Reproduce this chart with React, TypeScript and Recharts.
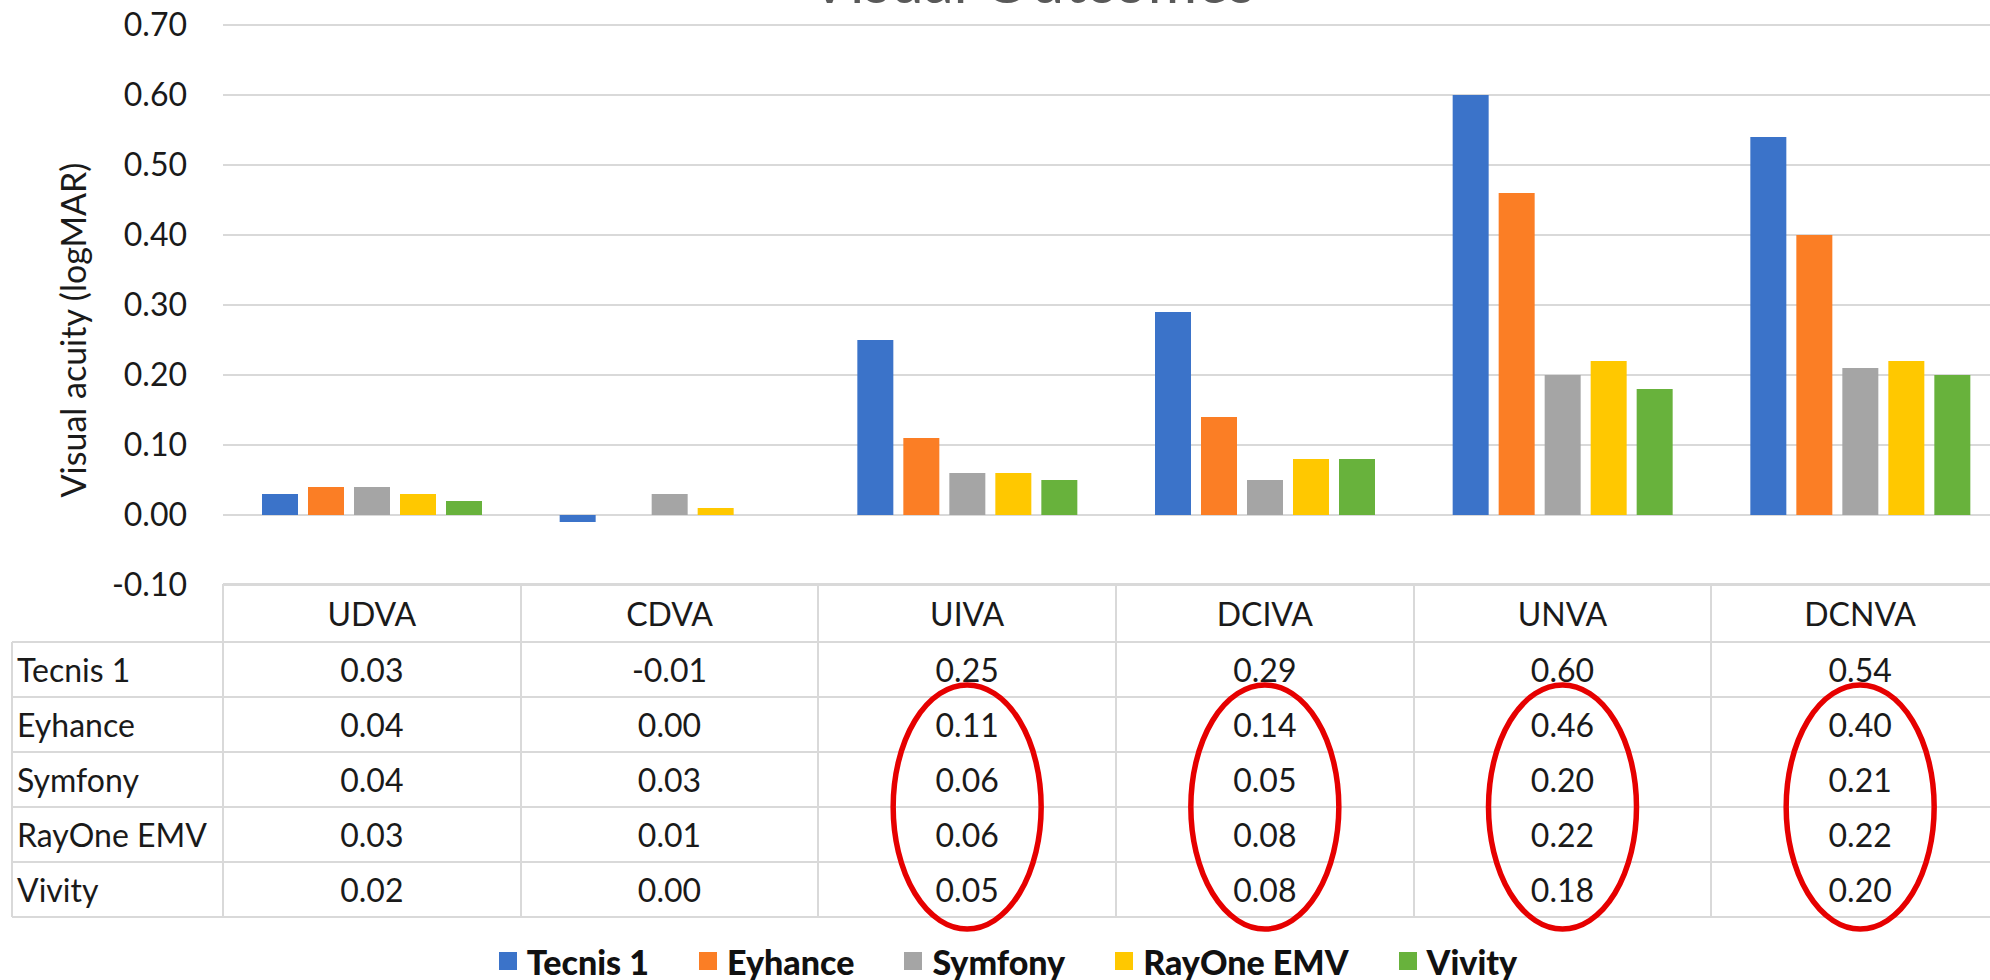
import React from "react";
import { BarChart, Bar, XAxis, YAxis, CartesianGrid } from "recharts";

const categories = ["UDVA", "CDVA", "UIVA", "DCIVA", "UNVA", "DCNVA"];
const seriesNames = ["Tecnis 1", "Eyhance", "Symfony", "RayOne EMV", "Vivity"];
const tecnis1 = [0.03, -0.01, 0.25, 0.29, 0.6, 0.54];
const eyhance = [0.04, 0.0, 0.11, 0.14, 0.46, 0.4];
const symfony = [0.04, 0.03, 0.06, 0.05, 0.2, 0.21];
const rayOne = [0.03, 0.01, 0.06, 0.08, 0.22, 0.22];
const vivity = [0.02, 0.0, 0.05, 0.08, 0.18, 0.2];
const yTicks = [-0.1, 0, 0.1, 0.2, 0.3, 0.4, 0.5, 0.6, 0.7];
const circled = ["UIVA", "DCIVA", "UNVA", "DCNVA"];

const seriesValues = [tecnis1, eyhance, symfony, rayOne, vivity];
const colors = ["#3B73C9", "#FB7E25", "#A5A5A5", "#FFC800", "#68B23C"];

const data = categories.map((c, i) => {
  const row: Record<string, string | number> = { category: c };
  seriesNames.forEach((s, j) => (row[s] = seriesValues[j][i]));
  return row;
});

// layout (px)
const PLOT_LEFT = 223;
const PLOT_RIGHT = 2009;
const PLOT_TOP = 25;
const PLOT_BOTTOM = 585;
const CHART_W = 2012;
const CHART_H = 630;
const BAND = (PLOT_RIGHT - PLOT_LEFT) / categories.length;
const TABLE_LEFT = 12;
const HEADER_TOP = 584;
const HEADER_H = 58;
const ROW_H = 55;
const LINE = "#d9d9d9";
const FONT = "Lato, 'Open Sans', sans-serif";

function DataTable() {
  const rowsTop = HEADER_TOP + HEADER_H;
  const bottom = rowsTop + ROW_H * seriesNames.length;
  const lines: React.ReactNode[] = [];
  lines.push(
    <div key="h0" style={{ position: "absolute", left: PLOT_LEFT, top: HEADER_TOP - 1, width: CHART_W, height: 2, background: LINE }} />
  );
  for (let r = 0; r <= seriesNames.length; r++) {
    lines.push(
      <div key={"h" + (r + 1)} style={{ position: "absolute", left: TABLE_LEFT, top: rowsTop + r * ROW_H - 1, width: CHART_W, height: 2, background: LINE }} />
    );
  }
  lines.push(
    <div key="v0" style={{ position: "absolute", left: TABLE_LEFT - 1, top: rowsTop, width: 2, height: bottom - rowsTop, background: LINE }} />
  );
  for (let c = 0; c <= categories.length; c++) {
    lines.push(
      <div key={"v" + (c + 1)} style={{ position: "absolute", left: PLOT_LEFT + c * BAND - 1, top: HEADER_TOP, width: 2, height: bottom - HEADER_TOP, background: LINE }} />
    );
  }
  const cell: React.CSSProperties = {
    position: "absolute",
    display: "flex",
    alignItems: "center",
    fontSize: 32,
    color: "#1a1a1a",
    whiteSpace: "nowrap",
  };
  return (
    <div style={{ position: "absolute", left: 0, top: 0 }}>
      {lines}
      {categories.map((c, i) => (
        <div key={c} style={{ ...cell, left: PLOT_LEFT + i * BAND, top: HEADER_TOP, width: BAND, height: HEADER_H, justifyContent: "center" }}>
          {c}
        </div>
      ))}
      {seriesNames.map((s, r) => (
        <React.Fragment key={s}>
          <div style={{ ...cell, left: TABLE_LEFT + 5, top: rowsTop + r * ROW_H, height: ROW_H }}>{s}</div>
          {seriesValues[r].map((v, i) => (
            <div key={i} style={{ ...cell, left: PLOT_LEFT + i * BAND, top: rowsTop + r * ROW_H, width: BAND, height: ROW_H, justifyContent: "center" }}>
              {v.toFixed(2)}
            </div>
          ))}
        </React.Fragment>
      ))}
    </div>
  );
}

function LegendRow() {
  return (
    <div style={{ position: "absolute", left: 0, top: 940, width: 2016, height: 42, display: "flex", justifyContent: "center", alignItems: "center", gap: 50 }}>
      {seriesNames.map((s, i) => (
        <div key={s} style={{ display: "flex", alignItems: "center", fontWeight: 900, fontSize: 34, color: "#111" }}>
          <span style={{ display: "inline-block", width: 18, height: 18, background: colors[i], marginRight: 10 }} />
          {s}
        </div>
      ))}
    </div>
  );
}

function Overlay() {
  const cy = HEADER_TOP + HEADER_H + ROW_H * 3;
  return (
    <svg width={1990} height={980} style={{ position: "absolute", left: 0, top: 0, pointerEvents: "none" }}>
      <text x={1032} y={3} textAnchor="middle" fontSize={60} fill="#595959" fontFamily={FONT}>
        Visual Outcomes
      </text>
      <text
        x={72}
        y={330}
        transform="rotate(-90 72 330)"
        textAnchor="middle"
        dominantBaseline="central"
        fontSize={34}
        fill="#1a1a1a"
        fontFamily={FONT}
      >
        Visual acuity (logMAR)
      </text>
      {circled.map((c) => {
        const cx = PLOT_LEFT + (categories.indexOf(c) + 0.5) * BAND;
        return <ellipse key={c} cx={cx} cy={cy} rx={74} ry={122} fill="none" stroke="#E60000" strokeWidth={5.5} />;
      })}
    </svg>
  );
}

export default function App() {
  return (
    <div style={{ position: "fixed", left: 0, top: 0, width: 1990, height: 980, overflow: "hidden", background: "#fff", fontFamily: FONT }}>
      <div style={{ position: "absolute", left: 0, top: 0 }}>
        <BarChart
          width={CHART_W}
          height={CHART_H}
          data={data}
          margin={{ top: PLOT_TOP, right: CHART_W - PLOT_RIGHT, bottom: CHART_H - PLOT_BOTTOM, left: 0 }}
          barSize={36}
          barGap={10}
        >
          <CartesianGrid vertical={false} stroke={LINE} strokeWidth={2} />
          <XAxis dataKey="category" hide />
          <YAxis
            width={PLOT_LEFT}
            domain={[-0.1, 0.7]}
            ticks={yTicks}
            tickFormatter={(v: number) => v.toFixed(2)}
            axisLine={false}
            tickLine={false}
            tickSize={0}
            tickMargin={36}
            tick={{ fontSize: 32, fill: "#1a1a1a", fontFamily: FONT }}
            interval={0}
          />
          {seriesNames.map((s, i) => (
            <Bar key={s} dataKey={s} fill={colors[i]} isAnimationActive={false} />
          ))}
        </BarChart>
      </div>
      <DataTable />
      <LegendRow />
      <Overlay />
    </div>
  );
}
